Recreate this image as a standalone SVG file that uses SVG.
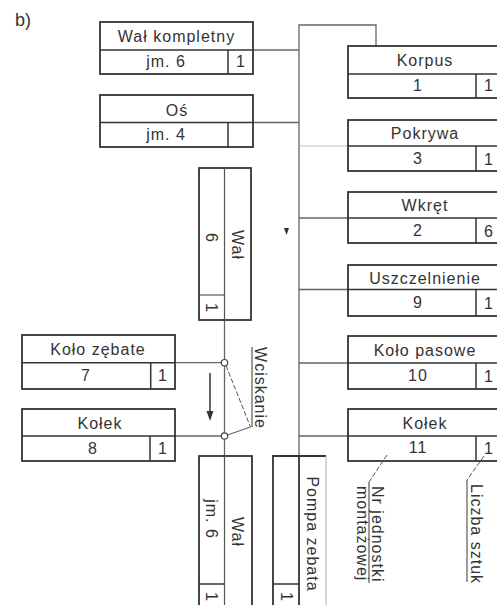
<svg xmlns="http://www.w3.org/2000/svg" width="497" height="605" viewBox="0 0 497 605">
<style>
.box{fill:#fff;stroke:#333;stroke-width:1.8}
.dv{stroke:#333;stroke-width:1.5;fill:none}
.con{stroke:#666;stroke-width:1.3;fill:none}
.lt{stroke:#bbb;stroke-width:1.2;fill:none}
.ld{stroke:#555;stroke-width:1;fill:none;stroke-dasharray:5 2}
.t{font-family:"Liberation Sans",Arial,sans-serif;font-size:16px;fill:#333;letter-spacing:1px;text-anchor:middle}
.s{text-anchor:start}
</style>
<rect width="497" height="605" fill="#fff"/>
<text class="t s" x="15" y="26" style="letter-spacing:0;font-size:18px">b)</text>

<g id="connectors">
<polyline class="con" points="253,50 299,50"/>
<polyline class="con" points="253,122.5 299,122.5"/>
<polyline class="con" points="299,456 299,25 376,25 376,46"/>
<line class="lt" x1="299" y1="146" x2="348" y2="146"/>
<line class="con" x1="299" y1="218" x2="348" y2="218"/>
<line class="con" x1="299" y1="289.5" x2="348" y2="289.5"/>
<line class="con" x1="299" y1="363" x2="348" y2="363"/>
<line class="con" x1="299" y1="436" x2="348" y2="436"/>
<line class="con" x1="224.5" y1="320" x2="224.5" y2="456"/>
<line class="con" x1="175" y1="362.7" x2="221.3" y2="362.7"/>
<line class="con" x1="175" y1="436" x2="221.3" y2="436"/>
<polyline class="ld" points="226,365.5 250.5,427"/>
<polyline class="con" points="250.5,427 227.5,435"/>
<circle cx="224.5" cy="362.7" r="3.2" fill="#fff" stroke="#444" stroke-width="1.2"/>
<circle cx="224.5" cy="436" r="3.2" fill="#fff" stroke="#444" stroke-width="1.2"/>
<line x1="210" y1="373" x2="210" y2="412" stroke="#333" stroke-width="1.5"/>
<polygon points="206.5,411 213.5,411 210,421" fill="#333"/>
<polygon points="284,228 289,228 286.5,235" fill="#333"/>
<line class="con" x1="252" y1="347" x2="252" y2="427"/>
<text class="t" transform="translate(254.5,388) rotate(90)">Wciskanie</text>
</g>

<g id="n-wal-kompletny">
<rect class="box" x="100" y="22" width="153" height="52"/>
<line class="dv" x1="100" y1="50" x2="253" y2="50"/>
<line class="dv" x1="228" y1="50" x2="228" y2="74"/>
<text class="t" x="176.5" y="41.5">Wał kompletny</text>
<text class="t" x="166" y="67">jm. 6</text>
<text class="t" x="241" y="67">1</text>
</g>

<g id="n-os">
<rect class="box" x="100" y="95" width="153" height="52"/>
<line class="dv" x1="100" y1="122.5" x2="253" y2="122.5"/>
<line class="dv" x1="228" y1="122.5" x2="228" y2="147"/>
<text class="t" x="177" y="116">Oś</text>
<text class="t" x="166" y="140">jm. 4</text>
</g>

<g id="n-korpus">
<rect class="box" x="348" y="46" width="154" height="52"/>
<line class="dv" x1="348" y1="74" x2="502" y2="74"/>
<line class="dv" x1="476" y1="74" x2="476" y2="98"/>
<text class="t" x="425" y="66">Korpus</text>
<text class="t" x="418" y="91">1</text>
<text class="t" x="489" y="91">1</text>
</g>

<g id="n-pokrywa">
<rect class="box" x="348" y="120" width="154" height="51"/>
<line class="dv" x1="348" y1="146" x2="502" y2="146"/>
<line class="dv" x1="476" y1="146" x2="476" y2="171"/>
<text class="t" x="425" y="139">Pokrywa</text>
<text class="t" x="418" y="164">3</text>
<text class="t" x="489" y="165">1</text>
</g>

<g id="n-wkret">
<rect class="box" x="348" y="192" width="154" height="51"/>
<line class="dv" x1="348" y1="218" x2="502" y2="218"/>
<line class="dv" x1="476" y1="218" x2="476" y2="243"/>
<text class="t" x="425" y="211">Wkręt</text>
<text class="t" x="418" y="236">2</text>
<text class="t" x="489" y="237">6</text>
</g>

<g id="n-uszczelnienie">
<rect class="box" x="348" y="265" width="154" height="51"/>
<line class="dv" x1="348" y1="289.5" x2="502" y2="289.5"/>
<line class="dv" x1="476" y1="289.5" x2="476" y2="316"/>
<text class="t" x="425" y="284">Uszczelnienie</text>
<text class="t" x="418" y="308">9</text>
<text class="t" x="489" y="309">1</text>
</g>

<g id="n-kolo-pasowe">
<rect class="box" x="348" y="336" width="154" height="53"/>
<line class="dv" x1="348" y1="363" x2="502" y2="363"/>
<line class="dv" x1="476" y1="363" x2="476" y2="389"/>
<text class="t" x="425" y="356">Koło pasowe</text>
<text class="t" x="418" y="381">10</text>
<text class="t" x="489" y="382">1</text>
</g>

<g id="n-kolek-11">
<rect class="box" x="348" y="409" width="154" height="52"/>
<line class="dv" x1="348" y1="436" x2="502" y2="436"/>
<line class="dv" x1="476" y1="436" x2="476" y2="461"/>
<text class="t" x="425" y="429">Kołek</text>
<text class="t" x="418" y="453">11</text>
<text class="t" x="489" y="454">1</text>
</g>

<g id="n-kolo-zebate">
<rect class="box" x="22" y="335" width="153" height="54"/>
<line class="dv" x1="22" y1="362.7" x2="175" y2="362.7"/>
<line class="dv" x1="150.7" y1="362.7" x2="150.7" y2="389"/>
<text class="t" x="98" y="355">Koło zębate</text>
<text class="t" x="86" y="381">7</text>
<text class="t" x="163" y="381">1</text>
</g>

<g id="n-kolek-8">
<rect class="box" x="22" y="409" width="153" height="52"/>
<line class="dv" x1="22" y1="436" x2="175" y2="436"/>
<line class="dv" x1="150" y1="436" x2="150" y2="461"/>
<text class="t" x="100" y="429">Kołek</text>
<text class="t" x="93" y="454">8</text>
<text class="t" x="163" y="454">1</text>
</g>

<g id="n-wal-6">
<rect class="box" x="199" y="168" width="52" height="152"/>
<line class="dv" x1="224.5" y1="168" x2="224.5" y2="320" style="stroke:#555;stroke-width:1.2"/>
<line class="dv" x1="199" y1="295" x2="224.5" y2="295" style="stroke:#555;stroke-width:1.2"/>
<text class="t" transform="translate(232,245) rotate(90)">Wał</text>
<text class="t" transform="translate(206,238) rotate(90)">6</text>
<text class="t" transform="translate(206,308) rotate(90)">1</text>
</g>

<g id="n-wal-jm6">
<rect class="box" x="199" y="456" width="53" height="170"/>
<line class="dv" x1="224.5" y1="456" x2="224.5" y2="605" style="stroke:#555;stroke-width:1.2"/>
<line class="dv" x1="199" y1="584" x2="224.5" y2="584"/>
<text class="t" transform="translate(206,519) rotate(90)">jm. 6</text>
<text class="t" transform="translate(232,532) rotate(90)">Wał</text>
<text class="t" transform="translate(206,597) rotate(90)">1</text>
</g>

<g id="n-pompa">
<polyline class="dv" points="273,610 273,456 326,456" style="stroke-width:1.8"/>
<line class="lt" x1="326" y1="456" x2="326" y2="605"/>
<line class="dv" x1="299" y1="456" x2="299" y2="605" style="stroke-width:1.8"/>
<line class="dv" x1="273" y1="584" x2="299" y2="584"/>
<text class="t" transform="translate(307,534) rotate(90)">Pompa zebata</text>
<text class="t" transform="translate(280.5,597) rotate(90)">1</text>
</g>

<g id="n-legend">
<polyline class="ld" points="387,455 369,482"/>
<line class="con" x1="369" y1="482" x2="369" y2="583"/>
<text class="t s" transform="translate(372,486) rotate(90)">Nr jednostki</text>
<text class="t s" transform="translate(357,486) rotate(90)">montażowej</text>
<polyline class="ld" points="484,456 467,480"/>
<line class="con" x1="467" y1="480" x2="467" y2="582"/>
<text class="t s" transform="translate(471,484) rotate(90)">Liczba sztuk</text>
</g>
</svg>
